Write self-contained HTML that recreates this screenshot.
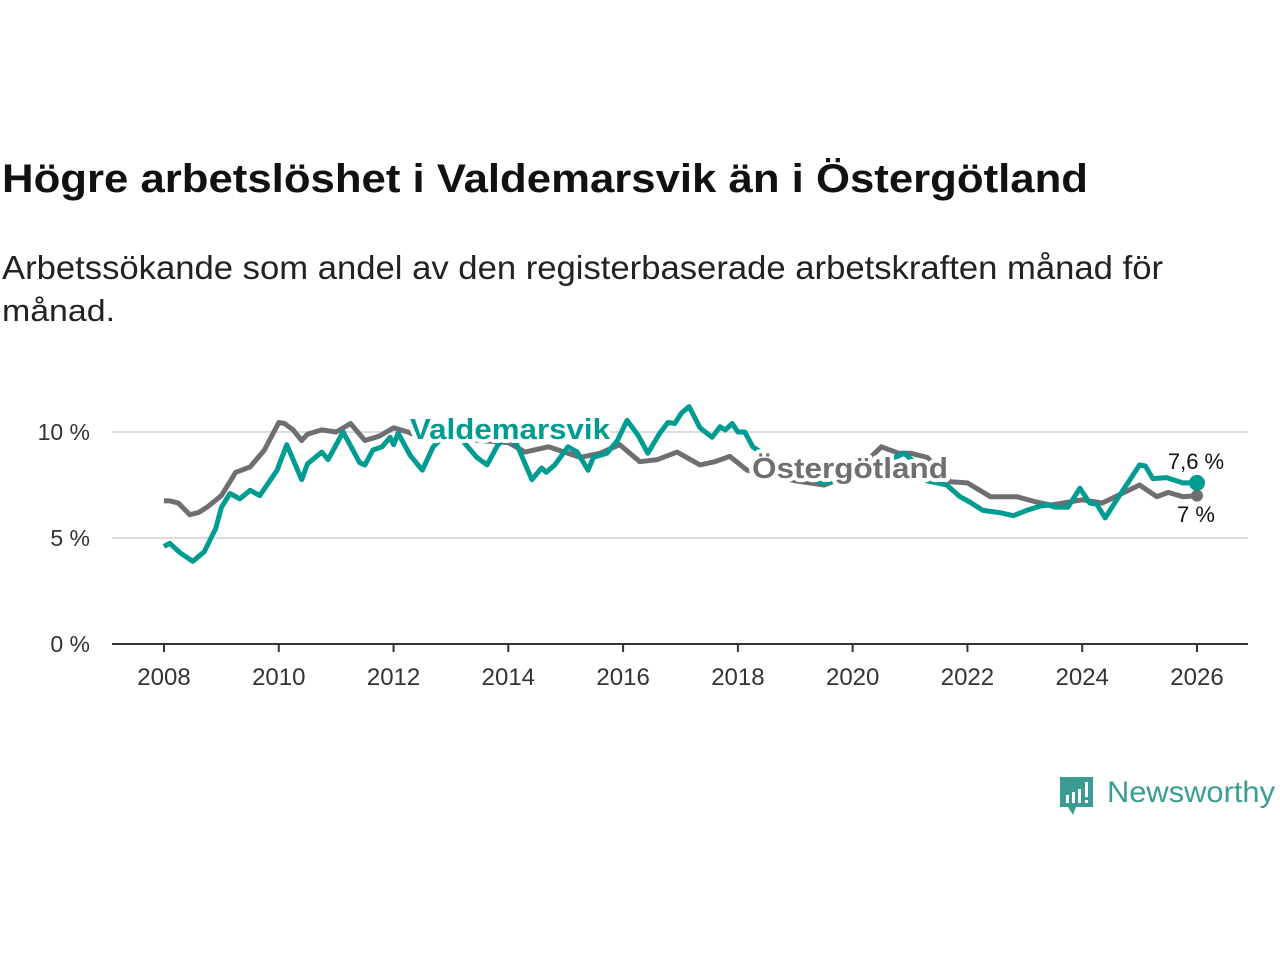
<!DOCTYPE html>
<html><head><meta charset="utf-8"><style>
body{margin:0;background:#fff;width:1280px;height:960px;overflow:hidden}
svg text{font-family:"Liberation Sans",sans-serif}
</style></head><body>
<svg width="1280" height="960">
<text x="2" y="192" font-size="40" font-weight="bold" fill="#111" textLength="1086" lengthAdjust="spacingAndGlyphs">Högre arbetslöshet i Valdemarsvik än i Östergötland</text>
<text x="2" y="279" font-size="33" fill="#222" textLength="1161" lengthAdjust="spacingAndGlyphs">Arbetssökande som andel av den registerbaserade arbetskraften månad för</text>
<text x="2" y="321" font-size="31" fill="#222" textLength="113" lengthAdjust="spacingAndGlyphs">månad.</text>
<g id="grid"></g><g id="axes"></g><g id="lines"></g><g id="labels"></g>
<g>
<path d="M1060 777 h33 v30 h-17 l-3 8 l-5 -8 h-8 z" fill="#3a9c93"/>
<rect x="1066" y="795" width="3" height="8" fill="#fff"/><rect x="1072" y="792" width="3" height="11" fill="#fff"/><rect x="1078" y="789" width="3" height="14" fill="#fff"/><rect x="1085" y="782" width="3" height="15" fill="#fff"/><rect x="1085" y="800" width="3" height="3" fill="#fff"/>
<text x="1107" y="802" font-size="30" fill="#3a9c93" textLength="168" lengthAdjust="spacingAndGlyphs">Newsworthy</text>
</g>
</svg>
<script>
const yTicks=[0,5,10];
const yTickLabels=["0 %","5 %","10 %"];
const xTicks=[2008,2010,2012,2014,2016,2018,2020,2022,2024,2026];
const ostDates=[2008.0,2008.1,2008.25,2008.45,2008.6,2008.75,2009.0,2009.25,2009.5,2009.75,2010.0,2010.1,2010.25,2010.4,2010.5,2010.75,2011.0,2011.25,2011.5,2011.75,2012.0,2012.25,2012.5,2013.0,2013.5,2014.0,2014.29,2014.7,2015.25,2015.6,2015.94,2016.29,2016.6,2016.94,2017.34,2017.6,2017.86,2018.16,2018.5,2019.0,2019.5,2020.0,2020.5,2020.8,2021.0,2021.3,2021.7,2022.0,2022.4,2022.86,2023.2,2023.45,2024.0,2024.35,2025.0,2025.3,2025.5,2025.75,2026.0];
const ostValues=[6.75,6.75,6.65,6.1,6.2,6.45,7.0,8.1,8.35,9.15,10.45,10.4,10.1,9.6,9.9,10.1,10.0,10.4,9.6,9.8,10.2,10.0,9.7,9.8,9.6,9.5,9.05,9.3,8.8,9.0,9.4,8.6,8.7,9.05,8.45,8.6,8.85,8.2,8.0,7.7,7.5,8.0,9.3,9.0,9.0,8.8,7.65,7.6,6.95,6.95,6.7,6.55,6.8,6.65,7.5,6.95,7.15,6.95,7.0];
const valDates=[2008.0,2008.1,2008.28,2008.5,2008.7,2008.9,2009.0,2009.15,2009.32,2009.5,2009.67,2009.97,2010.14,2010.4,2010.5,2010.75,2010.86,2011.12,2011.41,2011.5,2011.64,2011.8,2011.94,2012.0,2012.08,2012.29,2012.5,2012.69,2012.95,2013.2,2013.45,2013.63,2013.82,2014.0,2014.15,2014.41,2014.58,2014.66,2014.81,2015.04,2015.2,2015.39,2015.48,2015.72,2015.9,2016.07,2016.26,2016.43,2016.64,2016.78,2016.9,2017.02,2017.15,2017.34,2017.55,2017.69,2017.78,2017.9,2018.0,2018.12,2018.26,2018.7,2019.0,2019.5,2020.0,2020.5,2020.9,2021.1,2021.3,2021.64,2021.87,2022.04,2022.27,2022.56,2022.8,2023.03,2023.26,2023.4,2023.55,2023.75,2023.96,2024.13,2024.25,2024.4,2024.6,2024.83,2025.0,2025.1,2025.23,2025.47,2025.75,2026.0];
const valValues=[4.6,4.75,4.3,3.9,4.35,5.45,6.45,7.1,6.85,7.25,7.0,8.2,9.4,7.75,8.5,9.05,8.7,10.0,8.55,8.45,9.15,9.3,9.75,9.4,9.95,8.9,8.2,9.3,10.0,9.6,8.8,8.45,9.4,9.8,9.4,7.75,8.3,8.1,8.45,9.3,9.05,8.2,8.8,9.0,9.6,10.55,9.85,9.0,9.95,10.45,10.4,10.9,11.2,10.2,9.75,10.25,10.1,10.4,10.0,10.0,9.3,8.5,8.0,7.6,7.8,8.5,9.0,8.5,7.7,7.5,6.95,6.7,6.3,6.2,6.05,6.3,6.5,6.55,6.45,6.45,7.35,6.65,6.6,5.95,6.8,7.75,8.45,8.4,7.8,7.85,7.6,7.6];
const NS="http://www.w3.org/2000/svg";
const X=v=>164+(v-2008)*(1197-164)/18;
const Y=v=>644-v*21.2;
function mk(tag,parent,attrs){const e=document.createElementNS(NS,tag);for(const k in attrs)e.setAttribute(k,attrs[k]);document.getElementById(parent).appendChild(e);return e;}
yTicks.forEach((t,i)=>{
 if(t>0){const g=mk('line','grid',{x1:112,x2:1248,y1:Y(t),y2:Y(t),stroke:'#dcdcdc','stroke-width':2});
 
 }
 const l=mk('text','axes',{x:90,y:Y(t)+8,'text-anchor':'end','font-size':23,fill:'#333'});l.textContent=yTickLabels[i];
 
 
});
const ax=mk('line','axes',{x1:112,x2:1248,y1:644,y2:644,stroke:'#333','stroke-width':2});


xTicks.forEach(t=>{
 const k=mk('line','axes',{x1:X(t),x2:X(t),y1:644,y2:652,stroke:'#333','stroke-width':2});
 
 
 const l=mk('text','axes',{x:X(t),y:685,'text-anchor':'middle','font-size':24,fill:'#333'});l.textContent=t;
 
 
});
function pts(d,v){return d.map((x,i)=>X(x).toFixed(1)+','+Y(v[i]).toFixed(1)).join(' ');}
const p1=mk('polyline','lines',{points:pts(ostDates,ostValues),fill:'none',stroke:'#6f6e73','stroke-width':5,'stroke-linejoin':'round'});


const p2=mk('polyline','lines',{points:pts(valDates,valValues),fill:'none',stroke:'#009c91','stroke-width':5,'stroke-linejoin':'round'});


const e1=mk('circle','lines',{cx:X(ostDates[ostDates.length-1]),cy:Y(ostValues[ostValues.length-1]),r:6,fill:'#6f6e73'});


const e2=mk('circle','lines',{cx:X(valDates[valDates.length-1]),cy:Y(valValues[valValues.length-1]),r:8,fill:'#009c91'});


function lab(txt,x,y,col,bold,size,anchor,name,len){const a={x:x,y:y,fill:col,'font-size':size,'font-weight':bold?'bold':'normal','text-anchor':anchor,stroke:'#fff','stroke-width':8,'paint-order':'stroke','stroke-linejoin':'round'};if(len){a.textLength=len;a.lengthAdjust='spacingAndGlyphs';}const t=mk('text','labels',a);t.textContent=txt;
 
 return t;}
lab('Valdemarsvik',410,439,'#009c91',true,29,'start','valdemarsvik-label',200);
lab('Östergötland',752,478,'#6f6e73',true,29,'start','ostergotland-label',196);
lab('7,6 %',1196,469,'#111',false,22,'middle','valdemarsvik-end-value');
lab('7 %',1196,522,'#111',false,22,'middle','ostergotland-end-value');
</script>
</body></html>
